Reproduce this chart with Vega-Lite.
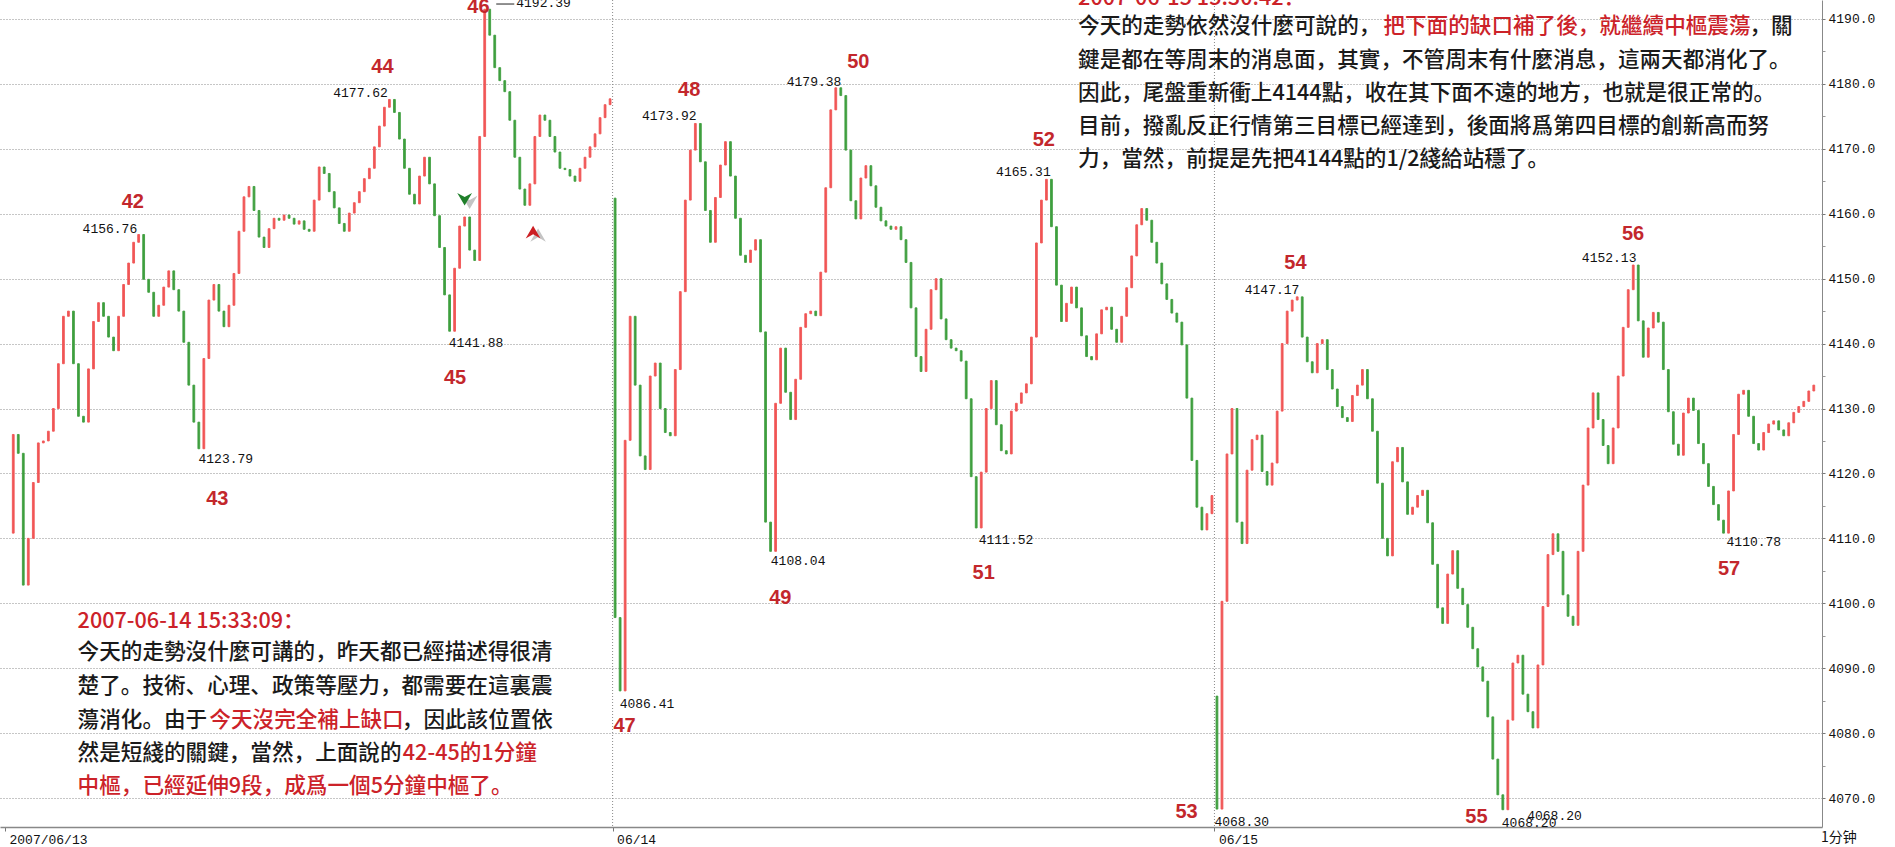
{
"$schema":"https://vega.github.io/schema/vega-lite/v6.json",
"width":1822,"height":827,
"autosize":{"type":"none"},
"padding":{"left":0,"top":0,"right":73,"bottom":20},
"background":"#ffffff",
"config":{"view":{"stroke":null}},
"datasets":{
"days":[{"m":119.5},{"m":239.5}],
"lead":[{"m":96.3,"m2":99.9,"p":4192.3}],
"bars":[
{"m":0,"o":4110.8,"c":4126.0},{"m":1,"o":4126.0,"c":4123.1},{"m":2,"o":4123.1,"c":4102.8},{"m":3,"o":4102.8,"c":4110.0},{"m":4,"o":4110.0,"c":4118.6},{"m":5,"o":4118.6,"c":4124.7},{"m":6,"o":4124.7,"c":4125.0},{"m":7,"o":4125.0,"c":4126.5},{"m":8,"o":4126.5,"c":4130.0},{"m":9,"o":4130.0,"c":4136.9},
{"m":10,"o":4136.9,"c":4144.2},{"m":11,"o":4144.2,"c":4145.0},{"m":12,"o":4145.0,"c":4136.9},{"m":13,"o":4136.9,"c":4128.8},{"m":14,"o":4128.8,"c":4127.9},{"m":15,"o":4127.9,"c":4136.1},{"m":16,"o":4136.1,"c":4143.4},{"m":17,"o":4143.4,"c":4146.3},{"m":18,"o":4146.3,"c":4144.2},{"m":19,"o":4144.2,"c":4141.0},
{"m":20,"o":4141.0,"c":4138.9},{"m":21,"o":4138.9,"c":4144.2},{"m":22,"o":4144.2,"c":4149.1},{"m":23,"o":4149.1,"c":4152.4},{"m":24,"o":4152.4,"c":4155.6},{"m":25,"o":4155.6,"c":4156.8},{"m":26,"o":4156.8,"c":4149.9},{"m":27,"o":4149.9,"c":4147.9},{"m":28,"o":4147.9,"c":4144.2},{"m":29,"o":4144.2,"c":4145.9},
{"m":30,"o":4145.9,"c":4148.7},{"m":31,"o":4148.7,"c":4151.2},{"m":32,"o":4151.2,"c":4148.3},{"m":33,"o":4148.3,"c":4145.0},{"m":34,"o":4145.0,"c":4140.2},{"m":35,"o":4140.2,"c":4133.6},{"m":36,"o":4133.6,"c":4127.9},{"m":37,"o":4127.9,"c":4123.8},{"m":38,"o":4123.8,"c":4137.7},{"m":39,"o":4137.7,"c":4146.7},
{"m":40,"o":4146.7,"c":4149.1},{"m":41,"o":4149.1,"c":4145.0},{"m":42,"o":4145.0,"c":4142.6},{"m":43,"o":4142.6,"c":4145.9},{"m":44,"o":4145.9,"c":4150.8},{"m":45,"o":4150.8,"c":4157.3},{"m":46,"o":4157.3,"c":4162.6},{"m":47,"o":4162.6,"c":4164.2},{"m":48,"o":4164.2,"c":4160.5},{"m":49,"o":4160.5,"c":4156.4},
{"m":50,"o":4156.4,"c":4154.8},{"m":51,"o":4154.8,"c":4157.7},{"m":52,"o":4157.7,"c":4159.3},{"m":53,"o":4159.3,"c":4159.0},{"m":54,"o":4159.0,"c":4159.8},{"m":55,"o":4159.8,"c":4159.3},{"m":56,"o":4159.3,"c":4158.4},{"m":57,"o":4158.4,"c":4158.9},{"m":58,"o":4158.9,"c":4157.6},{"m":59,"o":4157.6,"c":4157.3},
{"m":60,"o":4157.3,"c":4162.1},{"m":61,"o":4162.1,"c":4167.2},{"m":62,"o":4167.2,"c":4166.2},{"m":63,"o":4166.2,"c":4163.4},{"m":64,"o":4163.4,"c":4160.9},{"m":65,"o":4160.9,"c":4158.5},{"m":66,"o":4158.5,"c":4157.3},{"m":67,"o":4157.3,"c":4160.1},{"m":68,"o":4160.1,"c":4161.7},{"m":69,"o":4161.7,"c":4163.4},
{"m":70,"o":4163.4,"c":4165.4},{"m":71,"o":4165.4,"c":4167.0},{"m":72,"o":4167.0,"c":4170.3},{"m":73,"o":4170.3,"c":4173.5},{"m":74,"o":4173.5,"c":4176.4},{"m":75,"o":4176.4,"c":4177.6},{"m":76,"o":4177.6,"c":4175.6},{"m":77,"o":4175.6,"c":4171.5},{"m":78,"o":4171.5,"c":4167.0},{"m":79,"o":4167.0,"c":4163.0},
{"m":80,"o":4163.0,"c":4161.5},{"m":81,"o":4161.5,"c":4165.8},{"m":82,"o":4165.8,"c":4168.7},{"m":83,"o":4168.7,"c":4164.6},{"m":84,"o":4164.6,"c":4159.7},{"m":85,"o":4159.7,"c":4154.8},{"m":86,"o":4154.8,"c":4147.5},{"m":87,"o":4147.5,"c":4141.9},{"m":88,"o":4141.9,"c":4151.6},{"m":89,"o":4151.6,"c":4158.1},
{"m":90,"o":4158.1,"c":4159.5},{"m":91,"o":4159.5,"c":4154.4},{"m":92,"o":4154.4,"c":4152.8},{"m":93,"o":4152.8,"c":4171.9},{"m":94,"o":4171.9,"c":4191.5},{"m":95,"o":4191.5,"c":4187.5},{"m":96,"o":4187.5,"c":4182.5},{"m":97,"o":4182.5,"c":4180.5},{"m":98,"o":4180.5,"c":4178.8},{"m":99,"o":4178.8,"c":4174.4},
{"m":100,"o":4174.4,"c":4168.7},{"m":101,"o":4168.7,"c":4163.8},{"m":102,"o":4163.8,"c":4161.3},{"m":103,"o":4161.3,"c":4164.6},{"m":104,"o":4164.6,"c":4171.9},{"m":105,"o":4171.9,"c":4175.2},{"m":106,"o":4175.2,"c":4174.4},{"m":107,"o":4174.4,"c":4171.9},{"m":108,"o":4171.9,"c":4169.5},{"m":109,"o":4169.5,"c":4167.0},
{"m":110,"o":4167.0,"c":4166.8},{"m":111,"o":4166.8,"c":4165.8},{"m":112,"o":4165.8,"c":4165.0},{"m":113,"o":4165.0,"c":4167.0},{"m":114,"o":4167.0,"c":4168.7},{"m":115,"o":4168.7,"c":4170.3},{"m":116,"o":4170.3,"c":4172.3},{"m":117,"o":4172.3,"c":4174.8},{"m":118,"o":4174.8,"c":4176.8},{"m":119,"o":4176.8,"c":4177.7},
{"m":120,"o":4162.4,"c":4097.8},{"m":121,"o":4097.8,"c":4086.5},{"m":122,"o":4086.5,"c":4125.1},{"m":123,"o":4125.1,"c":4144.2},{"m":124,"o":4144.2,"c":4133.6},{"m":125,"o":4133.6,"c":4122.7},{"m":126,"o":4122.7,"c":4120.6},{"m":127,"o":4120.6,"c":4135.0},{"m":128,"o":4135.0,"c":4137.0},{"m":129,"o":4137.0,"c":4130.0},
{"m":130,"o":4130.0,"c":4126.3},{"m":131,"o":4126.3,"c":4125.8},{"m":132,"o":4125.8,"c":4136.0},{"m":133,"o":4136.0,"c":4148.0},{"m":134,"o":4148.0,"c":4162.1},{"m":135,"o":4162.1,"c":4169.8},{"m":136,"o":4169.8,"c":4173.9},{"m":137,"o":4173.9,"c":4168.0},{"m":138,"o":4168.0,"c":4160.5},{"m":139,"o":4160.5,"c":4155.6},
{"m":140,"o":4155.6,"c":4162.5},{"m":141,"o":4162.5,"c":4167.5},{"m":142,"o":4167.5,"c":4171.1},{"m":143,"o":4171.1,"c":4165.8},{"m":144,"o":4165.8,"c":4159.3},{"m":145,"o":4159.3,"c":4153.6},{"m":146,"o":4153.6,"c":4152.5},{"m":147,"o":4152.5,"c":4154.4},{"m":148,"o":4154.4,"c":4156.0},{"m":149,"o":4156.0,"c":4141.8},
{"m":150,"o":4141.8,"c":4112.5},{"m":151,"o":4112.5,"c":4108.0},{"m":152,"o":4108.0,"c":4130.8},{"m":153,"o":4130.8,"c":4139.3},{"m":154,"o":4139.3,"c":4132.5},{"m":155,"o":4132.5,"c":4128.3},{"m":156,"o":4128.3,"c":4134.5},{"m":157,"o":4134.5,"c":4142.5},{"m":158,"o":4142.5,"c":4144.6},{"m":159,"o":4144.6,"c":4145.0},
{"m":160,"o":4145.0,"c":4144.3},{"m":161,"o":4144.3,"c":4151.0},{"m":162,"o":4151.0,"c":4164.0},{"m":163,"o":4164.0,"c":4176.0},{"m":164,"o":4176.0,"c":4179.4},{"m":165,"o":4179.4,"c":4178.2},{"m":166,"o":4178.2,"c":4169.8},{"m":167,"o":4169.8,"c":4162.0},{"m":168,"o":4162.0,"c":4159.2},{"m":169,"o":4159.2,"c":4165.5},
{"m":170,"o":4165.5,"c":4167.4},{"m":171,"o":4167.4,"c":4164.3},{"m":172,"o":4164.3,"c":4161.0},{"m":173,"o":4161.0,"c":4158.9},{"m":174,"o":4158.9,"c":4158.1},{"m":175,"o":4158.1,"c":4157.6},{"m":176,"o":4157.6,"c":4158.0},{"m":177,"o":4158.0,"c":4156.0},{"m":178,"o":4156.0,"c":4152.5},{"m":179,"o":4152.5,"c":4145.5},
{"m":180,"o":4145.5,"c":4138.0},{"m":181,"o":4138.0,"c":4135.7},{"m":182,"o":4135.7,"c":4142.2},{"m":183,"o":4142.2,"c":4148.3},{"m":184,"o":4148.3,"c":4150.0},{"m":185,"o":4150.0,"c":4143.8},{"m":186,"o":4143.8,"c":4140.6},{"m":187,"o":4140.6,"c":4139.3},{"m":188,"o":4139.3,"c":4138.9},{"m":189,"o":4138.9,"c":4137.3},
{"m":190,"o":4137.3,"c":4131.5},{"m":191,"o":4131.5,"c":4119.5},{"m":192,"o":4119.5,"c":4111.6},{"m":193,"o":4111.6,"c":4120.2},{"m":194,"o":4120.2,"c":4130.0},{"m":195,"o":4130.0,"c":4134.3},{"m":196,"o":4134.3,"c":4127.5},{"m":197,"o":4127.5,"c":4123.5},{"m":198,"o":4123.5,"c":4123.0},{"m":199,"o":4123.0,"c":4129.6},
{"m":200,"o":4129.6,"c":4130.8},{"m":201,"o":4130.8,"c":4132.4},{"m":202,"o":4132.4,"c":4133.8},{"m":203,"o":4133.8,"c":4141.0},{"m":204,"o":4141.0,"c":4155.5},{"m":205,"o":4155.5,"c":4162.1},{"m":206,"o":4162.1,"c":4165.3},{"m":207,"o":4165.3,"c":4158.0},{"m":208,"o":4158.0,"c":4149.0},{"m":209,"o":4149.0,"c":4143.4},
{"m":210,"o":4143.4,"c":4146.2},{"m":211,"o":4146.2,"c":4148.7},{"m":212,"o":4148.7,"c":4145.5},{"m":213,"o":4145.5,"c":4141.2},{"m":214,"o":4141.2,"c":4138.0},{"m":215,"o":4138.0,"c":4137.5},{"m":216,"o":4137.5,"c":4141.5},{"m":217,"o":4141.5,"c":4145.2},{"m":218,"o":4145.2,"c":4145.6},{"m":219,"o":4145.6,"c":4142.2},
{"m":220,"o":4142.2,"c":4140.2},{"m":221,"o":4140.2,"c":4144.2},{"m":222,"o":4144.2,"c":4148.6},{"m":223,"o":4148.6,"c":4153.5},{"m":224,"o":4153.5,"c":4158.3},{"m":225,"o":4158.3,"c":4160.8},{"m":226,"o":4160.8,"c":4159.0},{"m":227,"o":4159.0,"c":4155.6},{"m":228,"o":4155.6,"c":4152.4},{"m":229,"o":4152.4,"c":4149.2},
{"m":230,"o":4149.2,"c":4146.8},{"m":231,"o":4146.8,"c":4144.7},{"m":232,"o":4144.7,"c":4143.3},{"m":233,"o":4143.3,"c":4139.8},{"m":234,"o":4139.8,"c":4131.6},{"m":235,"o":4131.6,"c":4122.0},{"m":236,"o":4122.0,"c":4114.8},{"m":237,"o":4114.8,"c":4111.3},{"m":238,"o":4111.3,"c":4113.8},{"m":239,"o":4113.8,"c":4116.6},
{"m":240,"o":4085.7,"c":4068.3},{"m":241,"o":4068.3,"c":4100.3},{"m":242,"o":4100.3,"c":4123.0},{"m":243,"o":4123.0,"c":4130.0},{"m":244,"o":4130.0,"c":4112.5},{"m":245,"o":4112.5,"c":4109.2},{"m":246,"o":4109.2,"c":4120.5},{"m":247,"o":4120.5,"c":4125.2},{"m":248,"o":4125.2,"c":4125.9},{"m":249,"o":4125.9,"c":4120.3},
{"m":250,"o":4120.3,"c":4118.2},{"m":251,"o":4118.2,"c":4121.6},{"m":252,"o":4121.6,"c":4129.6},{"m":253,"o":4129.6,"c":4140.0},{"m":254,"o":4140.0,"c":4145.0},{"m":255,"o":4145.0,"c":4146.7},{"m":256,"o":4146.7,"c":4147.2},{"m":257,"o":4147.2,"c":4141.0},{"m":258,"o":4141.0,"c":4137.2},{"m":259,"o":4137.2,"c":4135.5},
{"m":260,"o":4135.5,"c":4140.0},{"m":261,"o":4140.0,"c":4140.6},{"m":262,"o":4140.6,"c":4136.0},{"m":263,"o":4136.0,"c":4133.0},{"m":264,"o":4133.0,"c":4130.3},{"m":265,"o":4130.3,"c":4128.6},{"m":266,"o":4128.6,"c":4128.0},{"m":267,"o":4128.0,"c":4132.0},{"m":268,"o":4132.0,"c":4133.6},{"m":269,"o":4133.6,"c":4136.0},
{"m":270,"o":4136.0,"c":4131.5},{"m":271,"o":4131.5,"c":4126.5},{"m":272,"o":4126.5,"c":4118.5},{"m":273,"o":4118.5,"c":4110.0},{"m":274,"o":4110.0,"c":4107.3},{"m":275,"o":4107.3,"c":4121.8},{"m":276,"o":4121.8,"c":4124.0},{"m":277,"o":4124.0,"c":4118.7},{"m":278,"o":4118.7,"c":4113.7},{"m":279,"o":4113.7,"c":4114.8},
{"m":280,"o":4114.8,"c":4116.6},{"m":281,"o":4116.6,"c":4117.4},{"m":282,"o":4117.4,"c":4112.4},{"m":283,"o":4112.4,"c":4106.0},{"m":284,"o":4106.0,"c":4099.3},{"m":285,"o":4099.3,"c":4096.9},{"m":286,"o":4096.9,"c":4104.5},{"m":287,"o":4104.5,"c":4108.1},{"m":288,"o":4108.1,"c":4102.3},{"m":289,"o":4102.3,"c":4099.8},
{"m":290,"o":4099.8,"c":4096.3},{"m":291,"o":4096.3,"c":4093.0},{"m":292,"o":4093.0,"c":4090.2},{"m":293,"o":4090.2,"c":4088.0},{"m":294,"o":4088.0,"c":4082.5},{"m":295,"o":4082.5,"c":4076.0},{"m":296,"o":4076.0,"c":4070.5},{"m":297,"o":4070.5,"c":4068.2},{"m":298,"o":4068.2,"c":4082.0},{"m":299,"o":4082.0,"c":4090.8},
{"m":300,"o":4090.8,"c":4092.0},{"m":301,"o":4092.0,"c":4086.0},{"m":302,"o":4086.0,"c":4083.3},{"m":303,"o":4083.3,"c":4080.8},{"m":304,"o":4080.8,"c":4090.5},{"m":305,"o":4090.5,"c":4099.5},{"m":306,"o":4099.5,"c":4107.5},{"m":307,"o":4107.5,"c":4110.7},{"m":308,"o":4110.7,"c":4108.0},{"m":309,"o":4108.0,"c":4101.3},
{"m":310,"o":4101.3,"c":4098.0},{"m":311,"o":4098.0,"c":4096.6},{"m":312,"o":4096.6,"c":4108.0},{"m":313,"o":4108.0,"c":4118.2},{"m":314,"o":4118.2,"c":4127.0},{"m":315,"o":4127.0,"c":4132.4},{"m":316,"o":4132.4,"c":4128.3},{"m":317,"o":4128.3,"c":4124.3},{"m":318,"o":4124.3,"c":4121.5},{"m":319,"o":4121.5,"c":4127.0},
{"m":320,"o":4127.0,"c":4135.0},{"m":321,"o":4135.0,"c":4142.5},{"m":322,"o":4142.5,"c":4148.3},{"m":323,"o":4148.3,"c":4152.1},{"m":324,"o":4152.1,"c":4143.5},{"m":325,"o":4143.5,"c":4137.9},{"m":326,"o":4137.9,"c":4142.4},{"m":327,"o":4142.4,"c":4144.8},{"m":328,"o":4144.8,"c":4143.3},{"m":329,"o":4143.3,"c":4136.0},
{"m":330,"o":4136.0,"c":4129.5},{"m":331,"o":4129.5,"c":4124.5},{"m":332,"o":4124.5,"c":4122.8},{"m":333,"o":4122.8,"c":4129.3},{"m":334,"o":4129.3,"c":4131.6},{"m":335,"o":4131.6,"c":4129.7},{"m":336,"o":4129.7,"c":4124.6},{"m":337,"o":4124.6,"c":4121.5},{"m":338,"o":4121.5,"c":4118.0},{"m":339,"o":4118.0,"c":4115.2},
{"m":340,"o":4115.2,"c":4112.8},{"m":341,"o":4112.8,"c":4110.8},{"m":342,"o":4110.8,"c":4117.3},{"m":343,"o":4117.3,"c":4126.0},{"m":344,"o":4126.0,"c":4132.2},{"m":345,"o":4132.2,"c":4132.8},{"m":346,"o":4132.8,"c":4128.8},{"m":347,"o":4128.8,"c":4124.6},{"m":348,"o":4124.6,"c":4123.6},{"m":349,"o":4123.6,"c":4126.3},
{"m":350,"o":4126.3,"c":4127.6},{"m":351,"o":4127.6,"c":4128.1},{"m":352,"o":4128.1,"c":4126.7},{"m":353,"o":4126.7,"c":4125.8},{"m":354,"o":4125.8,"c":4127.8},{"m":355,"o":4127.8,"c":4129.4},{"m":356,"o":4129.4,"c":4130.3},{"m":357,"o":4130.3,"c":4131.1},{"m":358,"o":4131.1,"c":4132.7},{"m":359,"o":4132.7,"c":4133.6}
],
"vals":[
{"m":19.27,"p":4157.65,"t":"4156.76"},{"m":42.38,"p":4122.22,"t":"4123.79"},{"m":69.24,"p":4178.6,"t":"4177.62"},{"m":92.25,"p":4140.09,"t":"4141.88"},{"m":105.73,"p":4192.46,"t":"4192.39"},{"m":130.81,"p":4175.05,"t":"4173.92"},{"m":159.67,"p":4180.29,"t":"4179.38"},{"m":156.49,"p":4106.51,"t":"4108.04"},{"m":126.35,"p":4084.49,"t":"4086.41"},{"m":201.41,"p":4166.43,"t":"4165.31"},{"m":197.94,"p":4109.75,"t":"4111.52"},{"m":244.93,"p":4066.31,"t":"4068.30"},{"m":250.98,"p":4148.25,"t":"4147.17"},{"m":318.2,"p":4153.18,"t":"4152.13"},{"m":347.05,"p":4109.44,"t":"4110.78"},{"m":302.24,"p":4066.16,"t":"4068.20"},{"m":307.3,"p":4067.23,"t":"4068.20"}
],
"nums":[
{"m":23.83,"p":4161.81,"t":"42"},{"m":40.69,"p":4116.06,"t":"43"},{"m":73.61,"p":4182.6,"t":"44"},{"m":88.08,"p":4134.7,"t":"45"},{"m":92.74,"p":4191.84,"t":"46"},{"m":121.89,"p":4081.1,"t":"47"},{"m":134.78,"p":4179.06,"t":"48"},{"m":152.93,"p":4100.81,"t":"49"},{"m":168.49,"p":4183.37,"t":"50"},{"m":193.48,"p":4104.66,"t":"51"},{"m":205.47,"p":4171.36,"t":"52"},{"m":233.93,"p":4067.85,"t":"53"},{"m":255.64,"p":4152.41,"t":"54"},{"m":291.73,"p":4067.08,"t":"55"},{"m":322.97,"p":4156.88,"t":"56"},{"m":342.1,"p":4105.28,"t":"57"}
],
"txt":[
{"m":12.83,"p":4097.16,"t":"2007-06-14 15:33:09：","em":1},
{"m":12.83,"p":4092.29,"t":"今天的走勢沒什麼可講的，昨天都已經描述得很清","em":0},
{"m":12.83,"p":4087.15,"t":"楚了。技術、心理、政策等壓力，都需要在這裏震","em":0},
{"m":12.83,"p":4081.91,"t":"蕩消化。由于","em":0},
{"m":39.1,"p":4081.91,"t":"今天沒完全補上缺口","em":1},
{"m":77.47,"p":4081.91,"t":"，因此該位置依","em":0},
{"m":12.83,"p":4076.79,"t":"然是短綫的關鍵，當然，上面說的","em":0},
{"m":77.67,"p":4076.79,"t":"42-45的1分鐘","em":1},
{"m":12.83,"p":4071.75,"t":"中樞，已經延伸9段，成爲一個5分鐘中樞了。","em":1},
{"m":212.31,"p":4193.07,"t":"2007-06-15 15:30:42：","em":1},
{"m":212.31,"p":4188.76,"t":"今天的走勢依然沒什麼可說的，","em":0},
{"m":273.19,"p":4188.76,"t":"把下面的缺口補了後，就繼續中樞震蕩","em":1},
{"m":346.16,"p":4188.76,"t":"，關","em":0},
{"m":212.31,"p":4183.6,"t":"鍵是都在等周末的消息面，其實，不管周末有什麼消息，這兩天都消化了。","em":0},
{"m":212.31,"p":4178.44,"t":"因此，尾盤重新衝上4144點，收在其下面不遠的地方，也就是很正常的。","em":0},
{"m":212.31,"p":4173.36,"t":"目前，撥亂反正行情第三目標已經達到，後面將爲第四目標的創新高而努","em":0},
{"m":212.31,"p":4168.28,"t":"力，當然，前提是先把4144點的1/2綫給站穩了。","em":0}
],
"unit":[{"m":360.44,"p":4063.85,"t":"1分钟"}],
"arrdn":[{"m":90.0,"p":4162.4}],
"arrup":[{"m":103.65,"p":4157.0}]
},
"encoding":{"x":{"field":"m","type":"quantitative","scale":{"domain":[-1.646,359.64],"nice":false,"zero":false},
"axis":{"orient":"bottom","values":[-1.646,119.5,239.5],"labelExpr":"datum.value < 0 ? '2007/06/13' : (datum.value < 200 ? '06/14' : '06/15')","labelAlign":"left","labelOffset":4,"labelFont":"Liberation Mono","labelFontSize":13,"labelColor":"#111111","labelPadding":2,"tickSize":4,"tickColor":"#777777","domainColor":"#888888","domainWidth":1.5,"grid":false,"title":null,"labelFlush":false,"labelOverlap":false}}},
"layer":[
{"data":{"name":"days"},"mark":{"type":"rule","strokeDash":[1,2],"color":"#8a8a8a","strokeWidth":1},"encoding":{}},
{"data":{"name":"bars"},"mark":{"type":"bar","width":1.8,"strokeWidth":0.9},
"encoding":{
"y":{"field":"o","type":"quantitative","scale":{"domain":[4065.54,4192.92],"nice":false,"zero":false},
"axis":{"orient":"right","values":[4070,4080,4090,4100,4110,4120,4130,4140,4150,4160,4170,4180,4190],"format":".1f","title":null,"grid":true,"gridDash":[1,2],"gridColor":"#8c8c8c","labelFont":"Liberation Mono","labelFontSize":13,"labelColor":"#111111","labelPadding":3,"tickSize":3,"tickColor":"#777777","domainColor":"#888888","labelFlush":false,"labelOverlap":false}},
"y2":{"field":"c"},
"color":{"condition":{"test":"datum.c >= datum.o","value":"#f05656"},"value":"#3f9f3f"},
"stroke":{"condition":{"test":"datum.c >= datum.o","value":"#f05656"},"value":"#3f9f3f"}}},
{"data":{"name":"lead"},"mark":{"type":"rule","color":"#222222","strokeWidth":1},
"encoding":{"x2":{"field":"m2"},"y":{"field":"p","type":"quantitative","scale":{"domain":[4065.54,4192.92],"nice":false,"zero":false},"axis":null}}},
{"data":{"name":"arrdn"},"mark":{"type":"point","shape":"M-1,-0.7L0,1L1,-0.7L0,-0.15Z","filled":true,"size":240,"color":"#555555","opacity":0.35,"xOffset":5,"yOffset":3},
"encoding":{"y":{"field":"p","type":"quantitative","scale":{"domain":[4065.54,4192.92],"nice":false,"zero":false},"axis":null}}},
{"data":{"name":"arrdn"},"mark":{"type":"point","shape":"M-1,-0.7L0,1L1,-0.7L0,-0.15Z","filled":true,"size":220,"color":"#1f7f2a","opacity":1},
"encoding":{"y":{"field":"p","type":"quantitative","scale":{"domain":[4065.54,4192.92],"nice":false,"zero":false},"axis":null}}},
{"data":{"name":"arrup"},"mark":{"type":"point","shape":"M-1,0.7L0,-1L1,0.7L0,0.15Z","filled":true,"size":240,"color":"#555555","opacity":0.35,"xOffset":5,"yOffset":3},
"encoding":{"y":{"field":"p","type":"quantitative","scale":{"domain":[4065.54,4192.92],"nice":false,"zero":false},"axis":null}}},
{"data":{"name":"arrup"},"mark":{"type":"point","shape":"M-1,0.7L0,-1L1,0.7L0,0.15Z","filled":true,"size":220,"color":"#cc1f24","opacity":1},
"encoding":{"y":{"field":"p","type":"quantitative","scale":{"domain":[4065.54,4192.92],"nice":false,"zero":false},"axis":null}}},
{"data":{"name":"vals"},"mark":{"type":"text","font":"Liberation Mono","fontSize":13,"color":"#111111","align":"center","baseline":"middle"},
"encoding":{"y":{"field":"p","type":"quantitative","scale":{"domain":[4065.54,4192.92],"nice":false,"zero":false},
"axis":{"orient":"right","values":[4075,4085,4095,4105,4115,4125,4135,4145,4155,4165,4175,4185],"labels":false,"grid":false,"domain":false,"ticks":true,"tickSize":3,"tickColor":"#999999","title":null}},
"text":{"field":"t"}}},
{"data":{"name":"nums"},"mark":{"type":"text","font":"Liberation Sans","fontWeight":"bold","fontSize":20,"color":"#c3272c","align":"center","baseline":"middle"},
"encoding":{"y":{"field":"p","type":"quantitative","scale":{"domain":[4065.54,4192.92],"nice":false,"zero":false},"axis":null},"text":{"field":"t"}}},
{"data":{"name":"txt"},"mark":{"type":"text","font":"Noto Sans CJK SC","fontWeight":500,"fontSize":21.6,"align":"left","baseline":"middle"},
"encoding":{"y":{"field":"p","type":"quantitative","scale":{"domain":[4065.54,4192.92],"nice":false,"zero":false},"axis":null},"text":{"field":"t"},
"color":{"condition":{"test":"datum.em == 1","value":"#cc2229"},"value":"#1a1a1a"}}},
{"data":{"name":"unit"},"mark":{"type":"text","font":"Noto Sans CJK SC","fontSize":14,"color":"#111111","align":"left","baseline":"middle"},
"encoding":{"y":{"field":"p","type":"quantitative","scale":{"domain":[4065.54,4192.92],"nice":false,"zero":false},"axis":null},"text":{"field":"t"}}}
],
"resolve":{"axis":{"y":"independent"}}
}
